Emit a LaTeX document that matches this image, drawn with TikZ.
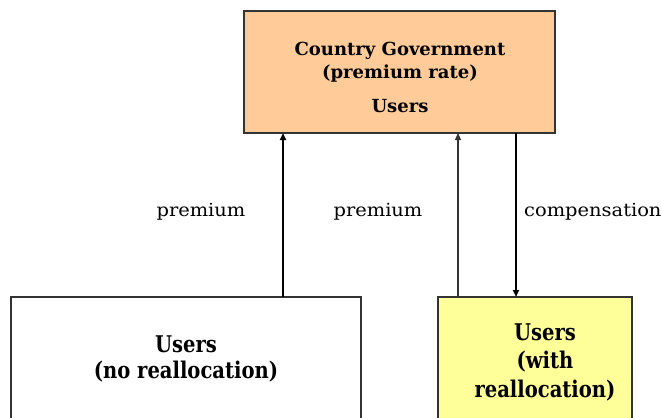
\documentclass[tikz,border=0pt]{standalone}
\usepackage{fontspec}
\setmainfont{DejaVu Serif}
\newfontfamily\lblfont[FakeStretch=1.08]{DejaVu Serif}
\newfontfamily\tallbold[FakeStretch=0.85]{DejaVu Serif}
\usetikzlibrary{arrows.meta}
\definecolor{govfill}{HTML}{FFCC99}
\definecolor{userfill}{HTML}{FFFF99}
\definecolor{edge}{HTML}{333333}
\begin{document}
\begin{tikzpicture}[x=1pt,y=-1pt,
  boxstyle/.style={draw=edge,line width=1.2pt,inner sep=0pt},
  flow/.style={line width=2pt,-{Triangle[length=7pt,width=6pt]}},
  thinflow/.style={draw=edge,line width=1.2pt,-{Triangle[length=7pt,width=6pt]}},
  lbl/.style={font=\lblfont\fontsize{18}{20}\selectfont,anchor=base,inner sep=0pt},
  boxtext/.style={font=\fontsize{18}{23}\selectfont\bfseries,align=center,inner sep=0pt},
  bigtext/.style={font=\tallbold\fontsize{23}{26}\selectfont\bfseries,align=center,inner sep=0pt}]
\useasboundingbox (0,0) rectangle (662,418);
\begin{scope}
\clip (0,0) rectangle (662,418);
% boxes (the lower two run past the bottom edge)
\draw[boxstyle,fill=govfill] (244,11) rectangle (555,133);
\draw[boxstyle,fill=white] (11,297) rectangle (361,440);
\draw[boxstyle,fill=userfill] (438,297) rectangle (632,440);
\end{scope}
\coordinate (gL) at (283,133);
\coordinate (uL) at (283,297);
\coordinate (gM) at (458,133);
\coordinate (uM) at (458,297);
\coordinate (gR) at (516,133);
\coordinate (uR) at (516,297);
% box texts
\node[boxtext] (gov) at (400,62) {Country Government\\(premium rate)};
\node[boxtext] (govu) at (400,106.5) {Users};
\node[bigtext] (nore) at (186,358.5) {Users\\(no reallocation)};
\node[bigtext,font=\tallbold\fontsize{23}{28.5}\selectfont\bfseries] (wire) at (545,362) {Users\\(with\\reallocation)};
% connectors
\draw[flow] (uL) -- (gL);
\draw[thinflow] (uM) -- (gM);
\draw[flow] (gR) -- (uR);
% labels
\node[lbl] (p1) at (201,216) {premium};
\node[lbl] (p2) at (378,216) {premium};
\node[lbl,anchor=base west] (c1) at (524,216) {compensation};
\end{tikzpicture}
\end{document}
